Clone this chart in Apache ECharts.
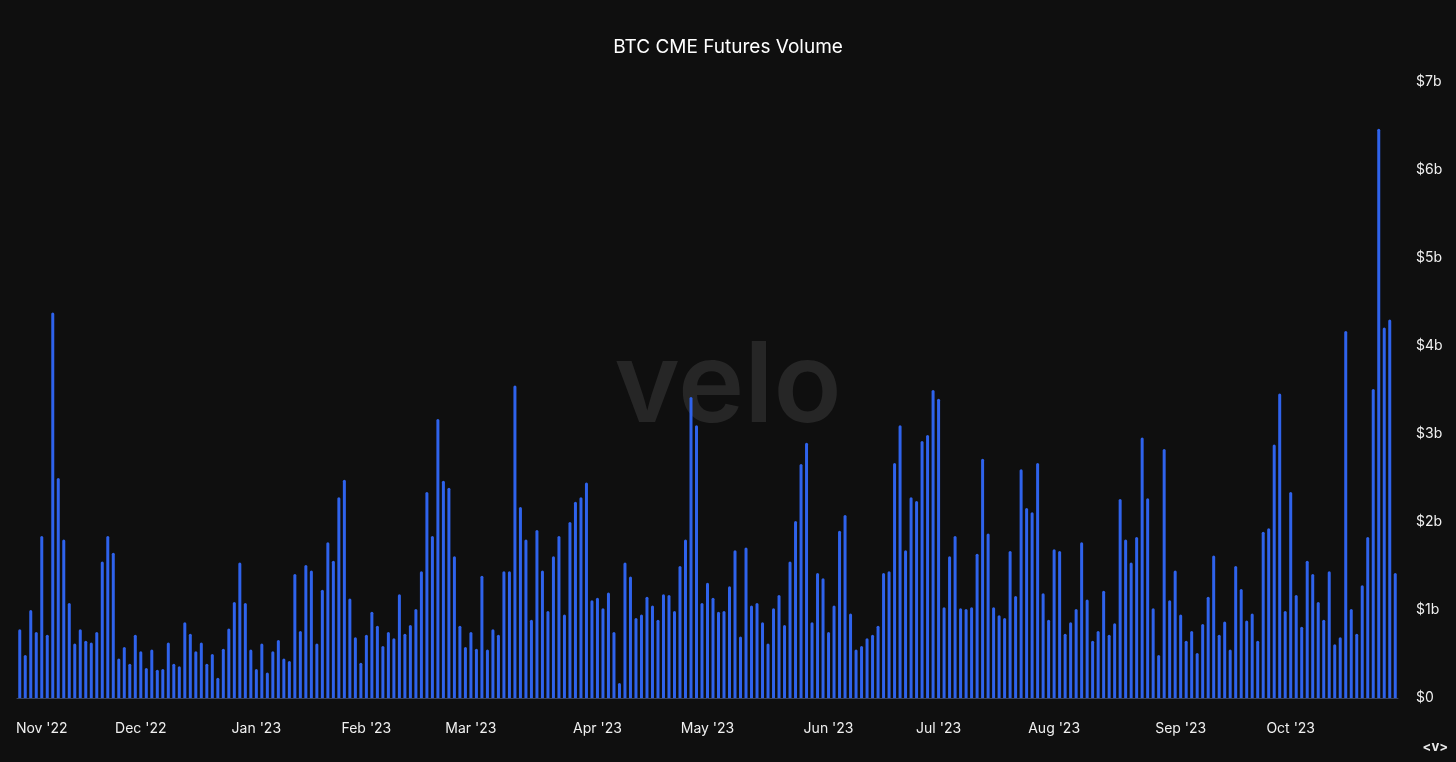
<!DOCTYPE html>
<html>
<head>
<meta charset="utf-8">
<script src="https://cdn.jsdelivr.net/npm/echarts@6/dist/echarts.min.js"></script>
<style>
  html, body { margin: 0; padding: 0; background: #0f0f0f; }
  #chart { width: 1456px; height: 762px; }
</style>
</head>
<body>
<div id="chart"></div>
<script>
// Trading days shown (month, days)
const tradingDays = [
  ["2022-10", [26,27,28,31]],
  ["2022-11", [1,2,3,4,7,8,9,10,14,15,16,17,18,21,22,28,29,30]],
  ["2022-12", [1,2,5,6,7,8,9,12,13,14,15,16,19,20,21,22,23,27,28,29,30]],
  ["2023-01", [3,4,5,6,9,10,11,12,13,17,18,19,20,23,24,25,26,27,30,31]],
  ["2023-02", [1,2,3,6,7,8,9,10,13,14,15,16,17,21,22,23,24,27,28]],
  ["2023-03", [1,2,3,6,7,8,9,10,13,14,15,16,17,20,21,22,23,24,27,28,29,30,31]],
  ["2023-04", [3,4,5,6,7,10,11,12,13,14,17,18,19,20,21,24,25,26,27,28]],
  ["2023-05", [1,2,3,4,5,8,9,10,11,12,15,16,17,18,19,22,23,24,25,26,30,31]],
  ["2023-06", [1,2,5,6,7,8,9,12,13,14,15,16,20,21,22,23,26,27,28,29]],
  ["2023-07", [3,4,5,6,7,10,11,12,13,14,17,18,19,20,21,24,25,26,27,28,31]],
  ["2023-08", [1,2,3,4,7,8,9,10,11,14,15,16,17,18,21,22,23,24,25,28,29,30,31]],
  ["2023-09", [1,5,6,7,8,11,12,13,14,15,18,19,20,21,22,25,26,27,28,29]],
  ["2023-10", [2,3,4,5,6,9,10,11,12,13,16,17,18,19,20,23,24,25,26,27]]
];

// Daily BTC CME futures volume, in $ billions
const volumeB = [
  0.78,0.49,1.00,0.75,1.84,0.72,4.38,2.50,1.80,1.08,
  0.62,0.78,0.65,0.63,0.75,1.55,1.84,1.65,0.45,0.58,
  0.39,0.72,0.53,0.34,0.55,0.32,0.33,0.63,0.39,0.36,
  0.86,0.73,0.53,0.63,0.39,0.50,0.23,0.56,0.79,1.09,
  1.54,1.08,
  0.55,0.33,0.62,0.29,0.53,0.66,0.45,0.42,1.41,0.76,
  1.51,1.45,0.62,1.23,1.77,1.56,2.28,2.48,1.13,0.69,
  0.40,0.72,0.98,0.82,0.59,0.75,0.68,1.18,0.73,0.83,
  1.01,1.44,2.34,1.84,3.17,2.47,2.39,1.61,0.82,0.58,
  0.75,0.56,1.39,
  0.55,0.78,0.72,1.44,1.44,3.55,2.17,1.80,0.89,1.91,
  1.45,0.99,1.61,1.84,0.95,2.00,2.23,2.28,2.45,1.11,
  1.14,1.02,1.20,0.75,0.17,1.54,1.38,0.91,0.95,1.15,
  1.05,0.89,1.18,1.17,0.99,1.50,1.80,3.42,3.10,1.08,
  1.31,1.14,0.98,
  0.99,1.27,1.68,0.70,1.71,1.05,1.08,0.86,0.62,1.02,
  1.17,0.83,1.55,2.01,2.66,2.90,0.86,1.42,1.36,0.75,
  1.05,1.90,2.08,0.96,0.55,0.59,0.68,0.72,0.82,1.42,
  1.44,2.67,3.10,1.68,2.28,2.24,2.92,2.99,3.50,3.40,
  1.03,1.61,1.84,
  1.02,1.01,1.03,1.64,2.72,1.87,1.03,0.94,0.91,1.67,
  1.16,2.60,2.16,2.11,2.67,1.19,0.89,1.69,1.67,0.73,
  0.86,1.01,1.77,1.12,0.65,0.76,1.22,0.72,0.85,2.26,
  1.80,1.54,1.83,2.96,2.27,1.02,0.49,2.83,1.11,1.45,
  0.95,0.65,
  0.76,0.51,0.84,1.15,1.62,0.72,0.87,0.55,1.50,1.24,
  0.88,0.96,0.65,1.89,1.93,2.88,3.46,0.99,2.34,1.17,
  0.81,1.56,1.41,1.09,0.89,1.44,0.61,0.69,4.17,1.01,
  0.73,1.28,1.83,3.51,6.47,4.21,4.30,1.42
];

const monthNames = ["Jan","Feb","Mar","Apr","May","Jun","Jul","Aug","Sep","Oct","Nov","Dec"];
const yTicks = { min: 0, max: 7, interval: 1 };

const categories = [];
tradingDays.forEach(([ym, days]) => {
  days.forEach(d => categories.push(ym + "-" + String(d).padStart(2, "0")));
});

const monthKey = s => s.slice(0, 7);
const showLabel = (idx) => idx > 0 && monthKey(categories[idx]) !== monthKey(categories[idx - 1]);
const fmtMonth = s => monthNames[parseInt(s.slice(5, 7), 10) - 1] + " '" + s.slice(2, 4);

const FONT = "Inter, 'Noto Sans', sans-serif";

const chart = echarts.init(document.getElementById('chart'), null, { renderer: 'canvas' });
chart.setOption({
  backgroundColor: '#0f0f0f',
  animation: false,
  title: {
    text: 'BTC CME Futures Volume',
    left: 'center',
    top: 33,
    textStyle: { color: '#ffffff', fontSize: 19, fontWeight: 'normal', fontFamily: FONT }
  },
  graphic: [
    {
      type: 'text',
      left: 'center',
      top: 332,
      z: 0,
      style: {
        text: 'velo',
        fontSize: 112,
        fontWeight: 600,
        fontFamily: FONT,
        fill: '#262626'
      }
    },
    {
      type: 'text',
      right: 8,
      top: 741,
      style: {
        text: '<v>',
        fontSize: 13,
        fontWeight: 'bold',
        fontFamily: FONT,
        fill: '#e8e8e8'
      }
    }
  ],
  grid: { left: 17, right: 58, top: 82, bottom: 64 },
  xAxis: {
    type: 'category',
    data: categories,
    boundaryGap: true,
    axisLine: { show: true, lineStyle: { color: '#3a4560', width: 1 } },
    axisTick: { show: false },
    axisLabel: {
      interval: (idx) => showLabel(idx),
      formatter: (v) => fmtMonth(v),
      color: '#f0f0f0',
      fontSize: 14,
      fontFamily: FONT,
      margin: 24
    },
    splitLine: { show: false }
  },
  yAxis: {
    type: 'value',
    position: 'right',
    min: yTicks.min,
    max: yTicks.max,
    interval: yTicks.interval,
    axisLine: { show: false },
    axisTick: { show: false },
    splitLine: { show: false },
    axisLabel: {
      formatter: (v) => '$' + (v === 0 ? '0' : v + 'b'),
      color: '#f0f0f0',
      fontSize: 14,
      fontFamily: FONT,
      margin: 18,
      align: 'left'
    }
  },
  series: [{
    type: 'bar',
    data: volumeB,
    barWidth: 3,
    z: 2,
    itemStyle: { color: '#2f63ec', borderRadius: [1.5, 1.5, 0, 0] }
  }]
});
</script>
</body>
</html>
